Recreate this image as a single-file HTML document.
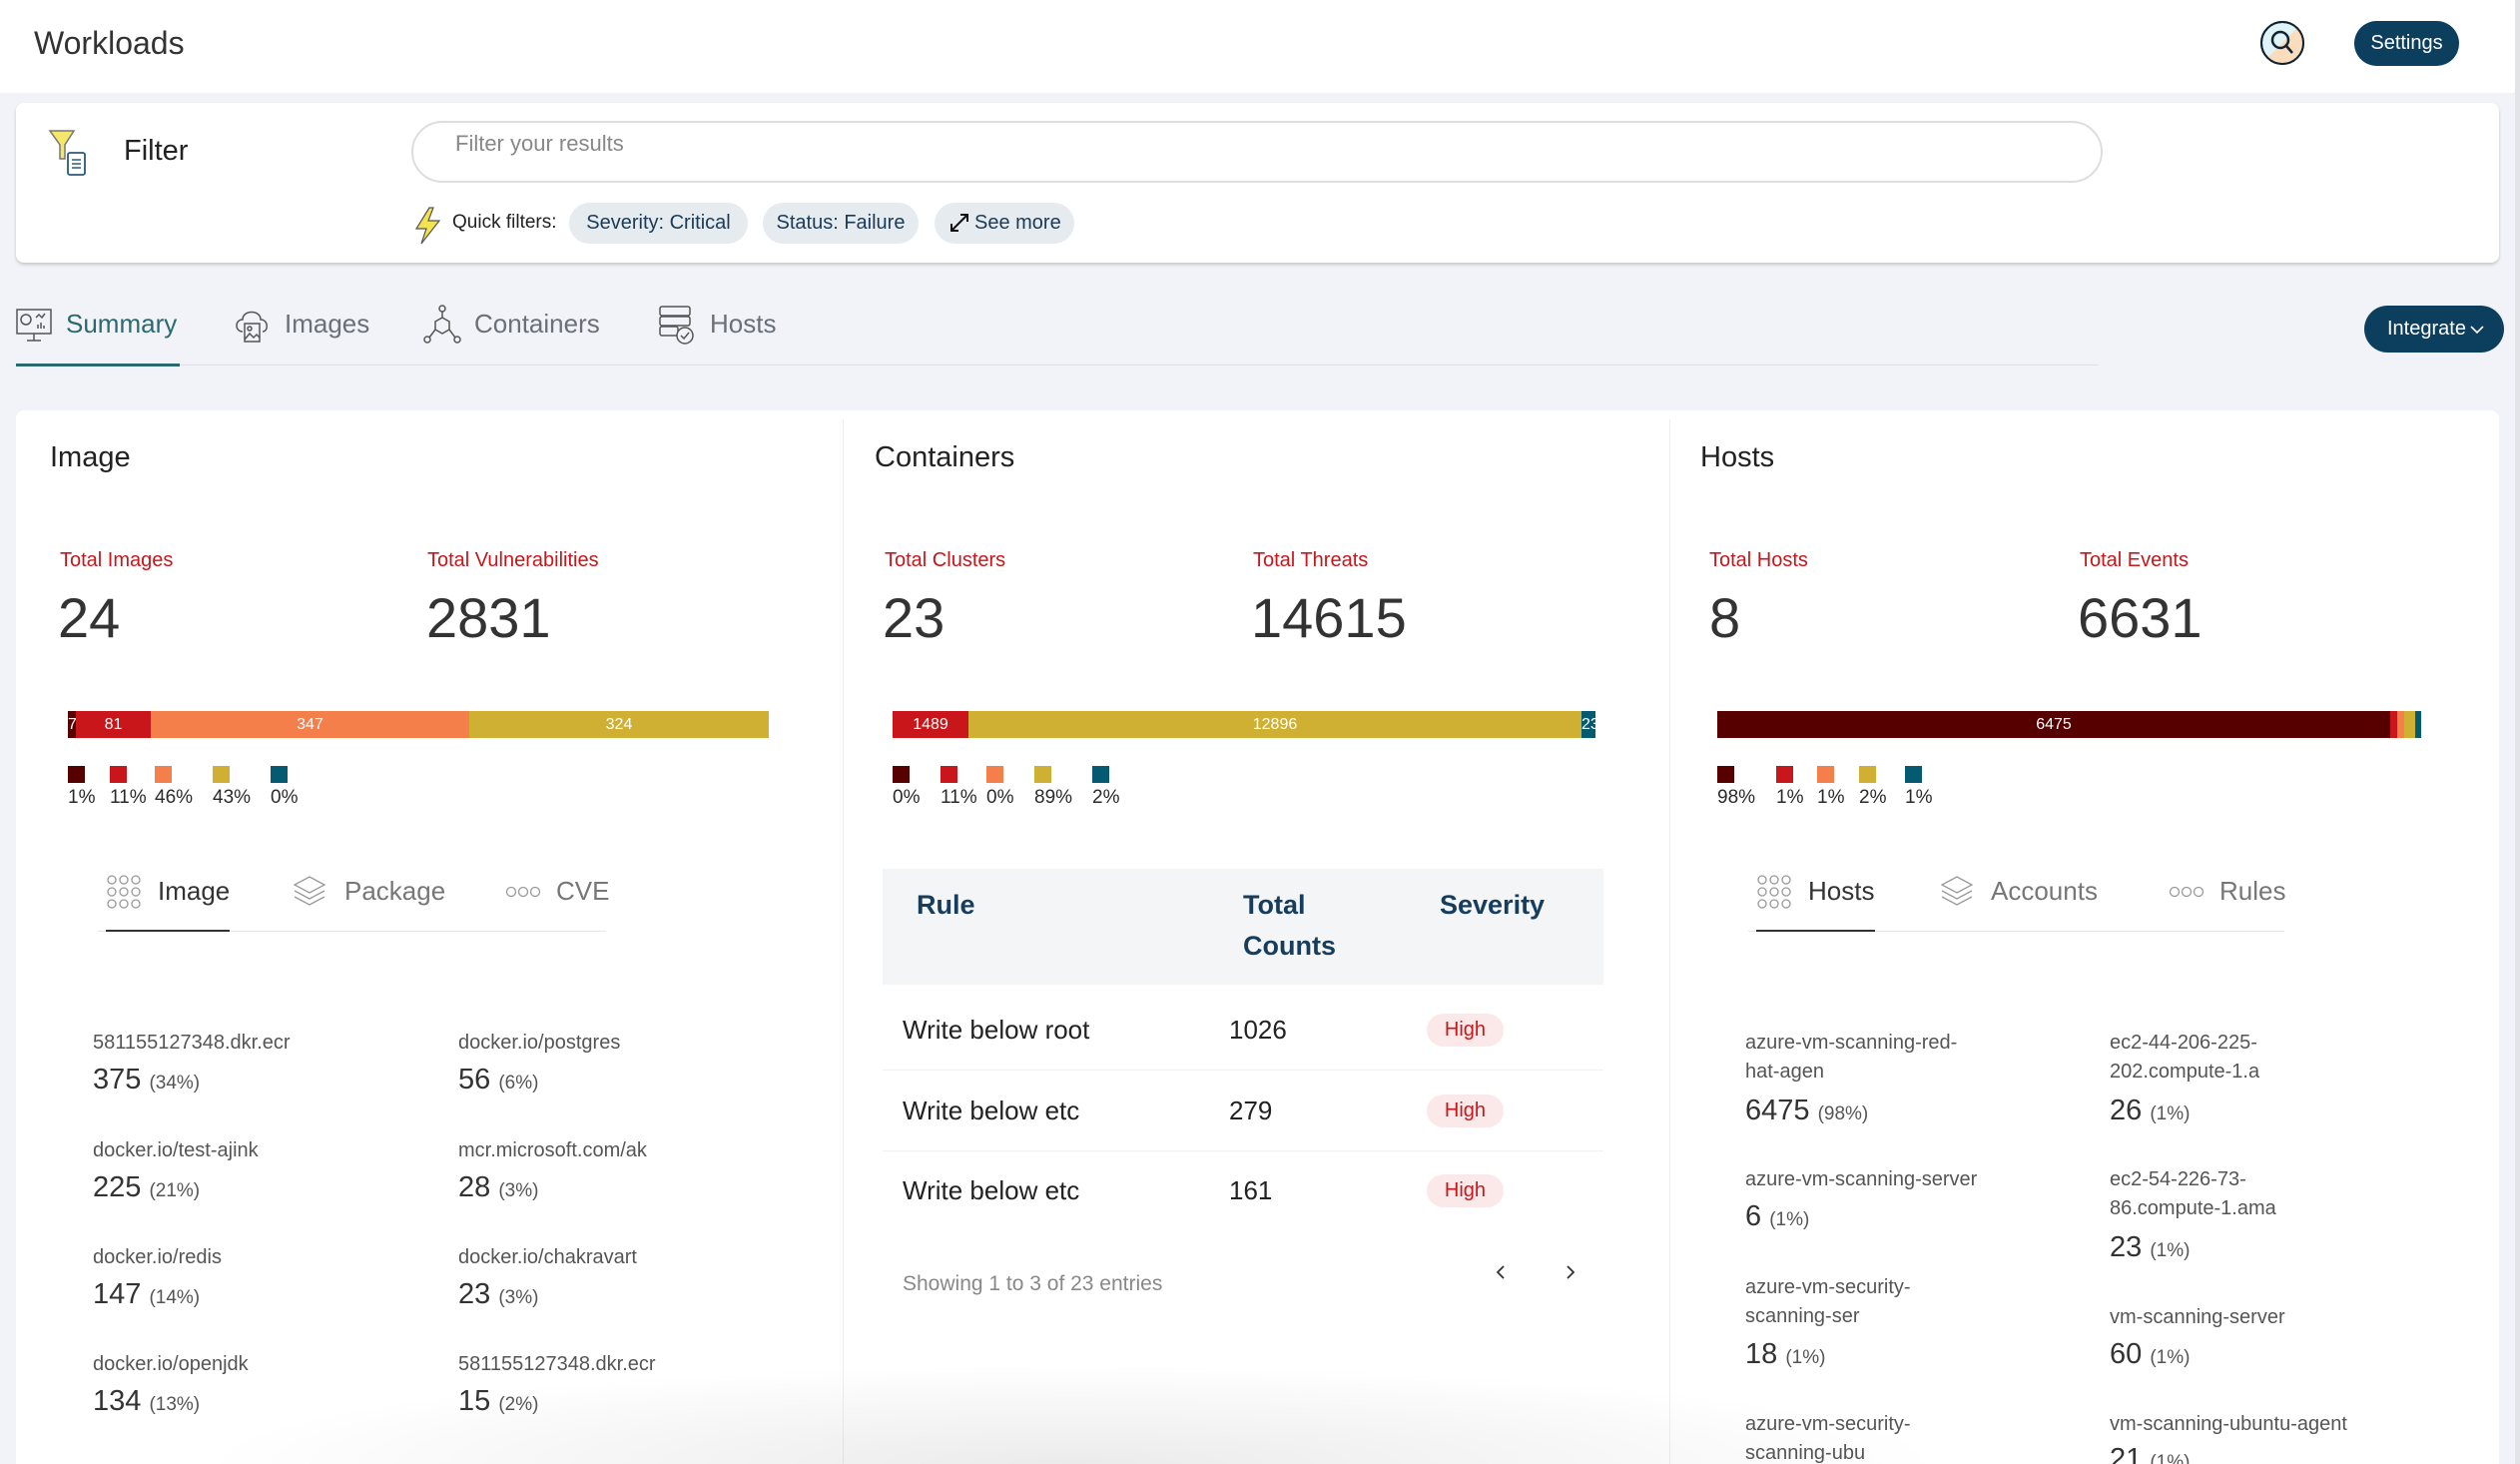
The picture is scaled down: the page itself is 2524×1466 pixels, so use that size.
<!DOCTYPE html>
<html style="overflow:hidden;height:1466px"><head><meta charset="utf-8"><style>
*{margin:0;padding:0;box-sizing:border-box}
body{width:2524px;height:1466px;overflow:hidden;background:#f1f3f8;font-family:"Liberation Sans",sans-serif;position:relative;color:#2b2b2b}
.a{position:absolute}
.t{position:absolute;line-height:1;white-space:nowrap}
.red{color:#c8161a}
.sq{position:absolute;width:17px;height:17px}
.nm{font-size:20px;color:#555}
.vl{font-size:29px;color:#333}
.vl small{font-size:19px;color:#555}
</style></head><body>
<!-- header -->
<div class="a" style="left:0;top:0;width:2524px;height:93px;background:#fff"></div>
<div class="a" style="left:2519px;top:0;width:5px;height:1466px;background:#e2e4e8"></div>
<div class="t" style="left:34px;top:27px;font-size:32px;color:#333">Workloads</div>
<svg class="a" style="left:2263px;top:20px" width="46" height="46" viewBox="0 0 46 46"><circle cx="23" cy="23" r="21" fill="#dff4f6" stroke="#123" stroke-width="2"/><path d="M23 2 A21 21 0 0 1 44 23 A21 21 0 0 1 23 44 Z" fill="#fbdcbc" transform="rotate(45 23 23)"/><circle cx="23" cy="23" r="21" fill="none" stroke="#123" stroke-width="2"/><circle cx="21" cy="20" r="8" fill="none" stroke="#123" stroke-width="2.5"/><line x1="27" y1="26" x2="33" y2="33" stroke="#123" stroke-width="2.5"/></svg>
<div class="a" style="left:2358px;top:21px;width:105px;height:45px;border-radius:23px;background:#0c3e5e;color:#fff;font-size:20px;text-align:center;line-height:45px">Settings</div>

<!-- filter card -->
<div class="a" style="left:16px;top:103px;width:2487px;height:160px;background:#fff;border-radius:8px;box-shadow:0 2px 3px rgba(0,0,0,.18)"></div>
<svg class="a" style="left:48px;top:129px" width="48" height="50" viewBox="0 0 48 50"><path d="M2 2 H26 L17 16 V30 H12 V16 Z" fill="#f4e76c" stroke="#777" stroke-width="1.5"/><rect x="20" y="24" width="17" height="22" rx="2" fill="#fff" stroke="#2a5a7a" stroke-width="1.8"/><line x1="24" y1="31" x2="33" y2="31" stroke="#2a5a7a" stroke-width="1.5"/><line x1="24" y1="35" x2="33" y2="35" stroke="#2a5a7a" stroke-width="1.5"/><line x1="24" y1="39" x2="33" y2="39" stroke="#2a5a7a" stroke-width="1.5"/></svg>
<div class="t" style="left:124px;top:137px;font-size:29px;color:#222">Filter</div>
<div class="a" style="left:412px;top:121px;width:1694px;height:62px;border:2px solid #ddd;border-radius:31px;background:#fff"></div>
<div class="t" style="left:456px;top:133px;font-size:22px;color:#888">Filter your results</div>
<svg class="a" style="left:414px;top:207px" width="28" height="38" viewBox="0 0 28 38"><path d="M16 1 L3 22 H13 L8 37 L26 14 H15 L20 1 Z" fill="#f3e34e" stroke="#555" stroke-width="1.2"/></svg>
<div class="t" style="left:453px;top:213px;font-size:19px;color:#222">Quick filters:</div>
<div class="a" style="left:570px;top:203px;width:179px;height:41px;border-radius:21px;background:#e5ebef;color:#1b3a57;font-size:20px;text-align:center;line-height:41px">Severity: Critical</div>
<div class="a" style="left:764px;top:203px;width:156px;height:41px;border-radius:21px;background:#e5ebef;color:#1b3a57;font-size:20px;text-align:center;line-height:41px">Status: Failure</div>
<div class="a" style="left:936px;top:203px;width:140px;height:41px;border-radius:21px;background:#e5ebef;color:#1b3a57;font-size:20px;line-height:41px;padding-left:40px">See more</div>
<svg class="a" style="left:950px;top:212px" width="22" height="22" viewBox="0 0 22 22"><path d="M3 19 L19 3 M12 3 H19 V10 M3 12 V19 H10" fill="none" stroke="#111" stroke-width="2"/></svg>

<!-- tabs -->
<svg class="a" style="left:16px;top:308px" width="36" height="36" viewBox="0 0 36 36" fill="none" stroke="#555" stroke-width="1.5"><rect x="1" y="2" width="34" height="24"/><line x1="18" y1="26" x2="18" y2="33"/><line x1="11" y1="33" x2="25" y2="33"/><circle cx="10" cy="12" r="5"/><path d="M20 10 l3-3 3 3 3-4"/><path d="M22 21v-4M25 21v-6M28 21v-3"/></svg>
<div class="t" style="left:66px;top:311px;font-size:26px;color:#2a6a6f">Summary</div>
<svg class="a" style="left:235px;top:306px" width="36" height="38" viewBox="0 0 36 38" fill="none" stroke="#555" stroke-width="1.5"><path d="M8 26 C0 26 0 14 8 14 C8 4 26 4 26 14 C34 14 34 26 28 26"/><rect x="10" y="18" width="15" height="18"/><circle cx="15" cy="23" r="2"/><path d="M10 34 l5-6 4 4 3-3 3 3"/></svg>
<div class="t" style="left:285px;top:311px;font-size:26px;color:#6b6f78">Images</div>
<svg class="a" style="left:424px;top:305px" width="38" height="40" viewBox="0 0 38 40" fill="none" stroke="#555" stroke-width="1.5"><circle cx="19" cy="4" r="3"/><line x1="19" y1="7" x2="19" y2="14"/><path d="M12 17 l7-4 7 4 v8 l-7 4 -7-4z"/><circle cx="4" cy="35" r="3"/><circle cx="34" cy="35" r="3"/><line x1="6" y1="33" x2="12" y2="25"/><line x1="32" y1="33" x2="26" y2="25"/></svg>
<div class="t" style="left:475px;top:311px;font-size:26px;color:#6b6f78">Containers</div>
<svg class="a" style="left:660px;top:305px" width="36" height="40" viewBox="0 0 36 40" fill="none" stroke="#555" stroke-width="1.5"><rect x="1" y="2" width="30" height="9" rx="2"/><rect x="1" y="12" width="30" height="9" rx="2"/><rect x="1" y="22" width="18" height="9" rx="2"/><circle cx="26" cy="31" r="8" fill="#f1f3f8"/><path d="M22 31 l3 3 5-6"/></svg>
<div class="t" style="left:711px;top:311px;font-size:26px;color:#6b6f78">Hosts</div>
<div class="a" style="left:16px;top:365px;width:2086px;height:1px;background:#dde1e6"></div>
<div class="a" style="left:16px;top:364px;width:164px;height:3px;background:#2a6a6f"></div>
<div class="a" style="left:2368px;top:306px;width:140px;height:47px;border-radius:24px;background:#0c3e5e;color:#fff;font-size:20px;line-height:47px;padding-left:23px">Integrate</div>
<svg class="a" style="left:2473px;top:324px" width="16" height="12" viewBox="0 0 16 12"><path d="M2 3 l6 6 6-6" fill="none" stroke="#fff" stroke-width="1.6"/></svg>

<!-- main card -->
<div class="a" style="left:16px;top:411px;width:2487px;height:1055px;background:#fff;border-radius:8px 8px 0 0"></div>
<div class="a" style="left:844px;top:420px;width:1px;height:1046px;background:#eceef1"></div>
<div class="a" style="left:1672px;top:420px;width:1px;height:1046px;background:#eceef1"></div>
<div class="a" style="left:200px;top:1366px;width:1750px;height:100px;background:radial-gradient(ellipse 50% 100% at 50% 100%,rgba(0,0,0,.08),rgba(0,0,0,0) 100%)"></div>

<div class="t" style="left:50px;top:444px;font-size:29px;color:#222">Image</div>
<div class="t" style="left:876px;top:444px;font-size:29px;color:#222">Containers</div>
<div class="t" style="left:1703px;top:444px;font-size:29px;color:#222">Hosts</div>

<div class="t red" style="left:60px;top:551px;font-size:20px">Total Images</div>
<div class="t red" style="left:428px;top:551px;font-size:20px">Total Vulnerabilities</div>
<div class="t red" style="left:886px;top:551px;font-size:20px">Total Clusters</div>
<div class="t red" style="left:1255px;top:551px;font-size:20px">Total Threats</div>
<div class="t red" style="left:1712px;top:551px;font-size:20px">Total Hosts</div>
<div class="t red" style="left:2083px;top:551px;font-size:20px">Total Events</div>

<div class="t" style="left:58px;top:591px;font-size:56px;color:#333">24</div>
<div class="t" style="left:427px;top:591px;font-size:56px;color:#333">2831</div>
<div class="t" style="left:884px;top:591px;font-size:56px;color:#333">23</div>
<div class="t" style="left:1253px;top:591px;font-size:56px;color:#333">14615</div>
<div class="t" style="left:1712px;top:591px;font-size:56px;color:#333">8</div>
<div class="t" style="left:2081px;top:591px;font-size:56px;color:#333">6631</div>

<!-- bars -->
<div class="a" style="left:68px;top:712px;width:702px;height:27px;display:flex;color:#fff;font-size:16px;line-height:27px;text-align:center;overflow:hidden">
<div style="width:8px;background:#560000">7</div><div style="width:75px;background:#c8161a">81</div><div style="width:319px;background:#f57f4b">347</div><div style="width:300px;background:#cfb033">324</div></div>
<div class="a" style="left:894px;top:712px;width:704px;height:27px;display:flex;color:#fff;font-size:16px;line-height:27px;text-align:center;overflow:hidden">
<div style="width:76px;background:#c8161a">1489</div><div style="width:614px;background:#cfb033">12896</div><div style="width:14px;background:#035a71">23</div></div>
<div class="a" style="left:1720px;top:712px;width:705px;height:27px;display:flex;color:#fff;font-size:16px;line-height:27px;text-align:center;overflow:hidden">
<div style="width:674px;background:#560000">6475</div><div style="width:7px;background:#c8161a"></div><div style="width:7px;background:#f57f4b"></div><div style="width:11px;background:#cfb033"></div><div style="width:6px;background:#035a71"></div></div>

<!-- legends -->
<div class="sq" style="left:68px;top:767px;background:#560000"></div><div class="sq" style="left:110px;top:767px;background:#c8161a"></div><div class="sq" style="left:155px;top:767px;background:#f57f4b"></div><div class="sq" style="left:213px;top:767px;background:#cfb033"></div><div class="sq" style="left:271px;top:767px;background:#035a71"></div>
<div class="t" style="left:68px;top:789px;font-size:19px">1%</div><div class="t" style="left:110px;top:789px;font-size:19px">11%</div><div class="t" style="left:155px;top:789px;font-size:19px">46%</div><div class="t" style="left:213px;top:789px;font-size:19px">43%</div><div class="t" style="left:271px;top:789px;font-size:19px">0%</div>

<div class="sq" style="left:894px;top:767px;background:#560000"></div><div class="sq" style="left:942px;top:767px;background:#c8161a"></div><div class="sq" style="left:988px;top:767px;background:#f57f4b"></div><div class="sq" style="left:1036px;top:767px;background:#cfb033"></div><div class="sq" style="left:1094px;top:767px;background:#035a71"></div>
<div class="t" style="left:894px;top:789px;font-size:19px">0%</div><div class="t" style="left:942px;top:789px;font-size:19px">11%</div><div class="t" style="left:988px;top:789px;font-size:19px">0%</div><div class="t" style="left:1036px;top:789px;font-size:19px">89%</div><div class="t" style="left:1094px;top:789px;font-size:19px">2%</div>

<div class="sq" style="left:1720px;top:767px;background:#560000"></div><div class="sq" style="left:1779px;top:767px;background:#c8161a"></div><div class="sq" style="left:1820px;top:767px;background:#f57f4b"></div><div class="sq" style="left:1862px;top:767px;background:#cfb033"></div><div class="sq" style="left:1908px;top:767px;background:#035a71"></div>
<div class="t" style="left:1720px;top:789px;font-size:19px">98%</div><div class="t" style="left:1779px;top:789px;font-size:19px">1%</div><div class="t" style="left:1820px;top:789px;font-size:19px">1%</div><div class="t" style="left:1862px;top:789px;font-size:19px">2%</div><div class="t" style="left:1908px;top:789px;font-size:19px">1%</div>

<!-- image subtabs -->
<svg class="a" style="left:106px;top:875px" width="36" height="36" viewBox="0 0 36 36" fill="none" stroke="#999" stroke-width="1.3"><circle cx="6" cy="6" r="4"/><circle cx="18" cy="6" r="4"/><circle cx="30" cy="6" r="4"/><circle cx="6" cy="18" r="4"/><circle cx="18" cy="18" r="4"/><circle cx="30" cy="18" r="4"/><circle cx="6" cy="30" r="4"/><circle cx="18" cy="30" r="4"/><circle cx="30" cy="30" r="4"/></svg>
<div class="t" style="left:158px;top:879px;font-size:26px;color:#333">Image</div>
<svg class="a" style="left:293px;top:876px" width="34" height="34" viewBox="0 0 34 34" fill="none" stroke="#999" stroke-width="1.3"><path d="M17 2 L32 10 17 18 2 10Z"/><path d="M2 16 L17 24 32 16"/><path d="M2 22 L17 30 32 22"/></svg>
<div class="t" style="left:345px;top:879px;font-size:26px;color:#777">Package</div>
<svg class="a" style="left:506px;top:886px" width="36" height="14" viewBox="0 0 36 14" fill="none" stroke="#999" stroke-width="1.3"><circle cx="6" cy="7" r="4.5"/><circle cx="18" cy="7" r="4.5"/><circle cx="30" cy="7" r="4.5"/></svg>
<div class="t" style="left:557px;top:879px;font-size:26px;color:#777">CVE</div>
<div class="a" style="left:98px;top:932px;width:509px;height:1px;background:#e3e5e8"></div>
<div class="a" style="left:106px;top:931px;width:124px;height:2px;background:#333"></div>

<!-- image list -->
<div class="t nm" style="left:93px;top:1034px">581155127348.dkr.ecr</div><div class="t vl" style="left:93px;top:1067px">375 <small>(34%)</small></div>
<div class="t nm" style="left:459px;top:1034px">docker.io/postgres</div><div class="t vl" style="left:459px;top:1067px">56 <small>(6%)</small></div>
<div class="t nm" style="left:93px;top:1142px">docker.io/test-ajink</div><div class="t vl" style="left:93px;top:1175px">225 <small>(21%)</small></div>
<div class="t nm" style="left:459px;top:1142px">mcr.microsoft.com/ak</div><div class="t vl" style="left:459px;top:1175px">28 <small>(3%)</small></div>
<div class="t nm" style="left:93px;top:1249px">docker.io/redis</div><div class="t vl" style="left:93px;top:1282px">147 <small>(14%)</small></div>
<div class="t nm" style="left:459px;top:1249px">docker.io/chakravart</div><div class="t vl" style="left:459px;top:1282px">23 <small>(3%)</small></div>
<div class="t nm" style="left:93px;top:1356px">docker.io/openjdk</div><div class="t vl" style="left:93px;top:1389px">134 <small>(13%)</small></div>
<div class="t nm" style="left:459px;top:1356px">581155127348.dkr.ecr</div><div class="t vl" style="left:459px;top:1389px">15 <small>(2%)</small></div>

<!-- containers table -->
<div class="a" style="left:884px;top:870px;width:722px;height:116px;background:#f4f5f6"></div>
<div class="t" style="left:918px;top:893px;font-size:27px;font-weight:bold;color:#163d5c">Rule</div>
<div class="t" style="left:1245px;top:893px;font-size:27px;font-weight:bold;color:#163d5c">Total</div>
<div class="t" style="left:1245px;top:934px;font-size:27px;font-weight:bold;color:#163d5c">Counts</div>
<div class="t" style="left:1442px;top:893px;font-size:27px;font-weight:bold;color:#163d5c">Severity</div>
<div class="a" style="left:884px;top:1071px;width:722px;height:1px;background:#f0f1f3"></div>
<div class="a" style="left:884px;top:1152px;width:722px;height:1px;background:#f0f1f3"></div>
<div class="t" style="left:904px;top:1018px;font-size:26px;color:#222">Write below root</div><div class="t" style="left:1231px;top:1018px;font-size:26px;color:#222">1026</div>
<div class="a" style="left:1429px;top:1015px;width:77px;height:33px;border-radius:17px;background:#fbe9ea;color:#c8161a;font-size:20px;text-align:center;line-height:33px">High</div>
<div class="t" style="left:904px;top:1099px;font-size:26px;color:#222">Write below etc</div><div class="t" style="left:1231px;top:1099px;font-size:26px;color:#222">279</div>
<div class="a" style="left:1429px;top:1096px;width:77px;height:33px;border-radius:17px;background:#fbe9ea;color:#c8161a;font-size:20px;text-align:center;line-height:33px">High</div>
<div class="t" style="left:904px;top:1179px;font-size:26px;color:#222">Write below etc</div><div class="t" style="left:1231px;top:1179px;font-size:26px;color:#222">161</div>
<div class="a" style="left:1429px;top:1176px;width:77px;height:33px;border-radius:17px;background:#fbe9ea;color:#c8161a;font-size:20px;text-align:center;line-height:33px">High</div>
<div class="t" style="left:904px;top:1275px;font-size:21px;color:#888">Showing 1 to 3 of 23 entries</div>
<svg class="a" style="left:1496px;top:1265px" width="14" height="18" viewBox="0 0 14 18"><path d="M10 3 L4 9 10 15" fill="none" stroke="#333" stroke-width="1.8"/></svg>
<svg class="a" style="left:1566px;top:1265px" width="14" height="18" viewBox="0 0 14 18"><path d="M4 3 L10 9 4 15" fill="none" stroke="#333" stroke-width="1.8"/></svg>

<!-- host subtabs -->
<svg class="a" style="left:1759px;top:875px" width="36" height="36" viewBox="0 0 36 36" fill="none" stroke="#999" stroke-width="1.3"><circle cx="6" cy="6" r="4"/><circle cx="18" cy="6" r="4"/><circle cx="30" cy="6" r="4"/><circle cx="6" cy="18" r="4"/><circle cx="18" cy="18" r="4"/><circle cx="30" cy="18" r="4"/><circle cx="6" cy="30" r="4"/><circle cx="18" cy="30" r="4"/><circle cx="30" cy="30" r="4"/></svg>
<div class="t" style="left:1811px;top:879px;font-size:26px;color:#333">Hosts</div>
<svg class="a" style="left:1943px;top:876px" width="34" height="34" viewBox="0 0 34 34" fill="none" stroke="#999" stroke-width="1.3"><path d="M17 2 L32 10 17 18 2 10Z"/><path d="M2 16 L17 24 32 16"/><path d="M2 22 L17 30 32 22"/></svg>
<div class="t" style="left:1994px;top:879px;font-size:26px;color:#777">Accounts</div>
<svg class="a" style="left:2172px;top:886px" width="36" height="14" viewBox="0 0 36 14" fill="none" stroke="#999" stroke-width="1.3"><circle cx="6" cy="7" r="4.5"/><circle cx="18" cy="7" r="4.5"/><circle cx="30" cy="7" r="4.5"/></svg>
<div class="t" style="left:2223px;top:879px;font-size:26px;color:#777">Rules</div>
<div class="a" style="left:1751px;top:932px;width:537px;height:1px;background:#e3e5e8"></div>
<div class="a" style="left:1759px;top:931px;width:119px;height:2px;background:#333"></div>

<!-- hosts list -->
<div class="t nm" style="left:1748px;top:1034px">azure-vm-scanning-red-</div><div class="t nm" style="left:1748px;top:1063px">hat-agen</div><div class="t vl" style="left:1748px;top:1098px">6475 <small>(98%)</small></div>
<div class="t nm" style="left:2113px;top:1034px">ec2-44-206-225-</div><div class="t nm" style="left:2113px;top:1063px">202.compute-1.a</div><div class="t vl" style="left:2113px;top:1098px">26 <small>(1%)</small></div>
<div class="t nm" style="left:1748px;top:1171px">azure-vm-scanning-server</div><div class="t vl" style="left:1748px;top:1204px">6 <small>(1%)</small></div>
<div class="t nm" style="left:2113px;top:1171px">ec2-54-226-73-</div><div class="t nm" style="left:2113px;top:1200px">86.compute-1.ama</div><div class="t vl" style="left:2113px;top:1235px">23 <small>(1%)</small></div>
<div class="t nm" style="left:1748px;top:1279px">azure-vm-security-</div><div class="t nm" style="left:1748px;top:1308px">scanning-ser</div><div class="t vl" style="left:1748px;top:1342px">18 <small>(1%)</small></div>
<div class="t nm" style="left:2113px;top:1309px">vm-scanning-server</div><div class="t vl" style="left:2113px;top:1342px">60 <small>(1%)</small></div>
<div class="t nm" style="left:1748px;top:1416px">azure-vm-security-</div><div class="t nm" style="left:1748px;top:1445px;height:21px;overflow:hidden">scanning-ubu</div>
<div class="t nm" style="left:2113px;top:1416px">vm-scanning-ubuntu-agent</div><div class="t vl" style="left:2113px;top:1447px;height:19px;overflow:hidden">21 <small>(1%)</small></div>
</body></html>
